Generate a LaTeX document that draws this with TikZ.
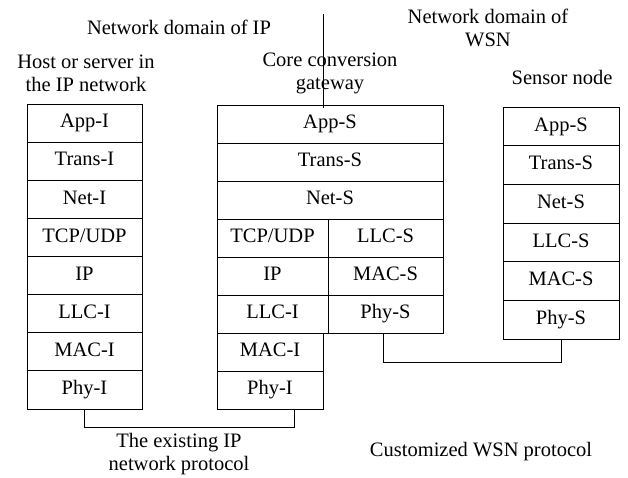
\documentclass[tikz,border=0pt]{standalone}
\usepackage{fontspec}
\setmainfont{Liberation Serif}
\begin{document}
\begin{tikzpicture}[x=1pt,y=-1pt,
  every node/.style={font=\fontsize{20.5}{23}\selectfont},
  layer/.style={draw,line width=0.9pt,inner sep=0pt,outer sep=0pt,anchor=north west,text height=14pt,text depth=4.5pt},
  lbl/.style={align=center,inner sep=0pt},
  conn/.style={line width=0.9pt}]
\useasboundingbox (0,0) rectangle (628,477);
% left stack: host
\foreach \t [count=\i from 0] in {App-I,Trans-I,Net-I,TCP/UDP,IP,LLC-I,MAC-I,Phy-I}{
  \node[layer,minimum width=115pt,minimum height=38.125pt] (h\i) at (27,104+38.125*\i) {\t};
}
% gateway
\node[layer,minimum width=226pt,minimum height=38pt] (g0) at (217,105) {App-S};
\node[layer,minimum width=226pt,minimum height=38pt] (g1) at (217,143) {Trans-S};
\node[layer,minimum width=226pt,minimum height=38pt] (g2) at (217,181) {Net-S};
\node[layer,minimum width=111pt,minimum height=38pt] (gl3) at (217,219) {TCP/UDP};
\node[layer,minimum width=111pt,minimum height=38pt] (gl4) at (217,257) {IP};
\node[layer,minimum width=111pt,minimum height=38pt] (gl5) at (217,295) {LLC-I};
\node[layer,minimum width=115pt,minimum height=38pt] (gr3) at (328,219) {LLC-S};
\node[layer,minimum width=115pt,minimum height=38pt] (gr4) at (328,257) {MAC-S};
\node[layer,minimum width=115pt,minimum height=38pt] (gr5) at (328,295) {Phy-S};
\node[layer,minimum width=106pt,minimum height=38pt] (gl6) at (217,333) {MAC-I};
\node[layer,minimum width=106pt,minimum height=38pt] (gl7) at (217,371) {Phy-I};
% sensor
\foreach \t [count=\i from 0] in {App-S,Trans-S,Net-S,LLC-S,MAC-S,Phy-S}{
  \node[layer,minimum width=116pt,minimum height=38.67pt] (s\i) at (503,107+38.67*\i) {\t};
}
% labels
\node[lbl] (t1) at (179,27) {Network domain of IP};
\node[lbl] (t2) at (86,73) {Host or server in\\the IP network};
\node[lbl] (t3) at (330,73) {Core conversion\\gateway};
\node[lbl] (t4) at (488,28) {Network domain of\\WSN};
\node[lbl] (t5) at (562,77) {Sensor node};
\node[lbl] (t6) at (179,454) {The existing IP\\network protocol};
\node[lbl] (t7) at (481,452) {Customized WSN protocol};
% divider
\coordinate (vtop) at (323,14);
\draw[conn] (vtop) -- ([yshift=-3pt]vtop |- g0.north);
% connectors
\draw[conn] (h7.south) -- ++(0,18) -| ([xshift=24pt]gl7.south);
\draw[conn] ([xshift=-2.5pt]gr5.south) -- ++(0,29) -| (s5.south);
\end{tikzpicture}
\end{document}
